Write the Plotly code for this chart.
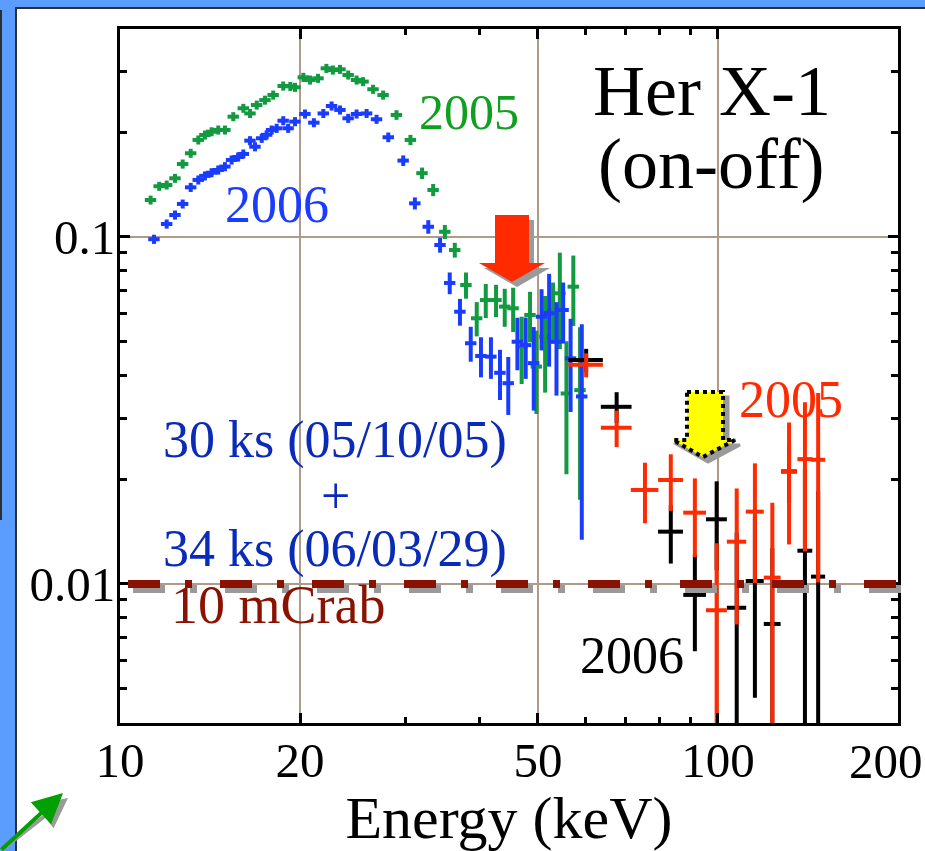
import math
import plotly.graph_objects as go

# ---------------- data ----------------
# HXD-PIN, 2005 (green)
pin05_energy = [11.25, 11.63, 11.97, 12.36, 12.73, 13.13, 13.52, 13.87, 14.23, 14.60,
                14.98, 15.47, 16.08, 16.50, 16.93, 17.48, 18.04, 18.75, 19.27, 19.62,
                20.26, 20.79, 21.44, 22.14, 22.70, 23.33, 24.08, 24.87, 25.50, 26.50,
                27.55, 29.00, 30.60, 32.00, 33.40, 34.94, 36.30, 37.90, 39.50, 40.90,
                42.55, 44.00, 45.45, 46.96, 48.50, 49.70, 51.40, 53.00, 54.40, 55.80,
                57.30, 58.80]
pin05_flux = [0.1278, 0.140, 0.1412, 0.1476, 0.1623, 0.1743, 0.1904, 0.1967, 0.2011, 0.2034,
              0.2034, 0.2222, 0.2349, 0.227, 0.240, 0.248, 0.2565, 0.2723, 0.2717, 0.270,
              0.2885, 0.2834, 0.2866, 0.3062, 0.3028, 0.3042, 0.293, 0.2834, 0.2804, 0.2665,
              0.2565, 0.2247, 0.1904, 0.1527, 0.1366, 0.1035, 0.0917, 0.0727, 0.0583, 0.0658,
              0.0658, 0.063, 0.0623, 0.0483, 0.0596, 0.0423, 0.0516, 0.0616, 0.0688, 0.0354,
              0.0719, 0.0362]
pin05_err = [0.0038, 0.0042, 0.0042, 0.0044, 0.0049, 0.0052, 0.0057, 0.0059, 0.0060, 0.0061,
             0.0061, 0.0067, 0.0070, 0.0068, 0.0072, 0.0074, 0.0077, 0.0082, 0.0082, 0.0081,
             0.0087, 0.0085, 0.0086, 0.0092, 0.0091, 0.0091, 0.0088, 0.0085, 0.0084, 0.0080,
             0.0077, 0.0072, 0.0065, 0.0058, 0.0055, 0.0048, 0.0045, 0.0063, 0.0066, 0.0074,
             0.0070, 0.0079, 0.0091, 0.0106, 0.0099, 0.0114, 0.0160, 0.0123, 0.0213, 0.0147,
             0.0165, 0.0187]

# HXD-PIN, 2006 (blue)
pin06_energy = [11.40, 11.97, 12.36, 12.73, 13.13, 13.52, 13.87, 14.23, 14.60, 14.98,
                15.37, 15.76, 16.08, 16.50, 16.82, 17.26, 17.59, 17.93, 18.28, 18.75,
                19.11, 19.62, 20.39, 21.10, 21.88, 22.59, 23.33, 24.08, 24.87, 25.85,
                26.86, 28.10, 29.76, 31.13, 32.78, 34.30, 35.60, 37.03, 38.60, 40.15,
                41.72, 43.20, 44.60, 46.20, 47.70, 49.20, 50.70, 52.20, 53.70, 55.10,
                56.70, 59.20]
pin06_flux = [0.0985, 0.109, 0.1157, 0.1245, 0.139, 0.146, 0.150, 0.1532, 0.156, 0.1595,
              0.1667, 0.170, 0.1735, 0.1895, 0.182, 0.1925, 0.197, 0.2034, 0.2057, 0.2163,
              0.2057, 0.215, 0.2262, 0.2135, 0.227, 0.2385, 0.2323, 0.2198, 0.2262, 0.227,
              0.2184, 0.1938, 0.166, 0.125, 0.107, 0.0948, 0.0737, 0.0609, 0.0494, 0.0454,
              0.0452, 0.0406, 0.0379, 0.0499, 0.0488, 0.0433, 0.0589, 0.0603, 0.0499, 0.0616,
              0.0447, 0.0347]
pin06_err = [0.0030, 0.0033, 0.0035, 0.0037, 0.0042, 0.0044, 0.0045, 0.0046, 0.0047, 0.0048,
             0.0050, 0.0051, 0.0052, 0.0057, 0.0055, 0.0058, 0.0059, 0.0061, 0.0062, 0.0065,
             0.0062, 0.0065, 0.0068, 0.0064, 0.0068, 0.0072, 0.0070, 0.0066, 0.0068, 0.0068,
             0.0066, 0.0062, 0.0058, 0.0050, 0.0048, 0.0047, 0.0053, 0.0054, 0.0057, 0.0060,
             0.0062, 0.0067, 0.0072, 0.0086, 0.0098, 0.0117, 0.0118, 0.0180, 0.0150, 0.0123,
             0.0134, 0.0213]

# HXD-GSO, 2005 (red)
gso05_energy = [60.2, 67.7, 75.5, 83.4, 91.5, 99.5, 107.5, 115.3, 123.3, 131.5, 139.8, 147.1]
gso05_flux = [0.0428, 0.0282, 0.01866, 0.01994, 0.01605, 0.0084, 0.01324, 0.01616, 0.01043,
              0.0211, 0.0229, 0.0228]
gso05_err = [0.0034, 0.0034, 0.0037, 0.0037, 0.0041, 0.0047, 0.0056, 0.0061, 0.0067,
             0.0081, 0.0105, 0.0127]

# HXD-GSO, 2006 (black)
gso06_energy = [60.2, 67.7, 83.4, 91.5, 99.5, 107.5, 115.3, 123.3, 131.5, 139.8, 147.1]
gso06_flux = [0.0442, 0.0324, 0.01415, 0.0093, 0.01536, 0.00854, 0.0102, 0.00767, 0.0211,
              0.01247, 0.0105]
gso06_err = [0.0034, 0.0033, 0.0027, 0.0029, 0.0044, 0.0055, 0.0055, 0.0050, 0.0040,
             0.0090, 0.0080]

pin_xerr_percent = 2.2      # half bin width of the PIN points (%)
gso_xerr_keV = 4.0          # half bin width of the GSO points (keV)

crab_level = 0.01           # 10 mCrab

x_range_keV = [10, 200.05]
y_range_flux = [0.003975, 0.3975]
x_tick_vals = [10, 20, 50, 100, 200]
x_tick_text = ["10", "20", "50", "100", ""]   # the last label ("200") is placed by hand below
x_last_label = "200"
x_minor_vals = [30, 40, 60, 70, 80, 90]
y_tick_vals = [0.01, 0.1]
y_tick_text = ["0.01", "0.1"]
y_minor_vals = [0.005, 0.006, 0.007, 0.008, 0.009,
                0.02, 0.03, 0.04, 0.05, 0.06, 0.07, 0.08, 0.09, 0.2, 0.3]

# ---------------- layout geometry ----------------
W, H = 925, 851
L, R, T, B = 120, 898, 29, 723
SERIF = "Liberation Serif, Times New Roman, Times, serif"

GREEN = "#129a40"
BLUE = "#1a3cff"
RED = "#ff2a00"
BLACK = "#000000"
GRID = "#b09a88"
BG_BLUE = "#5b9cff"
CRAB = "#8a1200"


def P(px, py):
    """pixel position in the page -> paper coordinates"""
    return (px - L) / (R - L), (B - py) / (B - T)


def path(points):
    s = ""
    for i, (px, py) in enumerate(points):
        x, y = P(px, py)
        s += ("M" if i == 0 else "L") + f"{x:.5f},{y:.5f} "
    return s + "Z"


fig = go.Figure()


def add_series(E, F, err, color, xerr):
    fig.add_trace(go.Scatter(
        x=E, y=F, mode="markers",
        marker=dict(size=2, color="rgba(0,0,0,0)"),
        error_y=dict(type="data", array=err, color=color, thickness=4, width=0, visible=True),
        error_x=dict(**xerr, color=color, thickness=4, width=0, visible=True),
        showlegend=False, hoverinfo="skip", cliponaxis=True))


add_series(pin05_energy, pin05_flux, pin05_err, GREEN, dict(type="percent", value=pin_xerr_percent))
add_series(pin06_energy, pin06_flux, pin06_err, BLUE, dict(type="percent", value=pin_xerr_percent))
add_series(gso06_energy, gso06_flux, gso06_err, BLACK, dict(type="constant", value=gso_xerr_keV))
add_series(gso05_energy, gso05_flux, gso05_err, RED, dict(type="constant", value=gso_xerr_keV))

shapes = []
# page decoration: blue frame strips and dark borders
shapes.append(dict(type="rect", xref="paper", yref="paper", layer="below",
                   x0=P(0, 0)[0], x1=P(W, 0)[0], y0=P(0, 0)[1], y1=P(0, 8)[1],
                   fillcolor=BG_BLUE, line_width=0))
shapes.append(dict(type="rect", xref="paper", yref="paper", layer="below",
                   x0=P(0, 0)[0], x1=P(15, 0)[0], y0=P(0, 0)[1], y1=P(0, H)[1],
                   fillcolor=BG_BLUE, line_width=0))
shapes.append(dict(type="line", xref="paper", yref="paper", layer="below",
                   x0=P(15, 8)[0], x1=P(W, 8)[0], y0=P(15, 8)[1], y1=P(W, 8)[1],
                   line=dict(color="#2b2f3a", width=2)))
shapes.append(dict(type="line", xref="paper", yref="paper", layer="below",
                   x0=P(16, 8)[0], x1=P(16, H)[0], y0=P(16, 8)[1], y1=P(16, H)[1],
                   line=dict(color="#2b2f3a", width=2)))
shapes.append(dict(type="line", xref="paper", yref="paper", layer="below",
                   x0=P(1, 10)[0], x1=P(1, 520)[0], y0=P(1, 10)[1], y1=P(1, 520)[1],
                   line=dict(color="#2b2f3a", width=2)))

# 10 mCrab level (dash-dot line with shadow)
ylo, yhi = math.log10(y_range_flux[0]), math.log10(y_range_flux[1])
crab_y = (math.log10(crab_level) - ylo) / (yhi - ylo)
dash = "32px,25px,7px,28px"
shapes.append(dict(type="line", xref="paper", yref="paper",
                   x0=P(133, 0)[0], x1=P(902, 0)[0], y0=crab_y - 5 / (B - T), y1=crab_y - 5 / (B - T),
                   line=dict(color="#9a9a9a", width=8, dash=dash)))
shapes.append(dict(type="line", xref="paper", yref="paper",
                   x0=P(128, 0)[0], x1=P(897, 0)[0], y0=crab_y, y1=crab_y,
                   line=dict(color=CRAB, width=8, dash=dash)))

# red block arrow (with shadow)
red_arrow = [(495, 215), (529, 215), (529, 263), (545, 263), (512, 282), (479, 263), (495, 263)]
shapes.append(dict(type="path", xref="paper", yref="paper",
                   path=path([(x + 5, y + 5) for x, y in red_arrow]),
                   fillcolor="#9a9a9a", line_width=0))
shapes.append(dict(type="path", xref="paper", yref="paper", path=path(red_arrow),
                   fillcolor="#ff2a00", line_width=0))

# yellow dotted block arrow (with shadow)
yel_arrow = [(687, 392), (723, 392), (723, 440), (735, 440), (703, 457), (673, 440), (687, 440)]
shapes.append(dict(type="path", xref="paper", yref="paper",
                   path=path([(x + 5, y + 5) for x, y in yel_arrow]),
                   fillcolor="#9a9a9a", line=dict(color="#9a9a9a", width=3)))
shapes.append(dict(type="path", xref="paper", yref="paper", path=path(yel_arrow),
                   fillcolor="#ffff00", line=dict(color="#000000", width=4, dash="4px,4px")))

annotations = []


def text(s, px, py, size, color):
    x, y = P(px, py)
    annotations.append(dict(text=s, x=x, y=y, xref="paper", yref="paper",
                            xanchor="center", yanchor="middle", showarrow=False,
                            font=dict(family=SERIF, size=size, color=color)))


text("Her X-1", 712, 91, 72, BLACK)
text("(on-off)", 711, 164, 72, BLACK)
text("2005", 469, 112, 50, "#10a020")
text("2006", 277, 204, 52, BLUE)
text("30 ks (05/10/05)", 335, 440, 52, "#0a2ab8")
text("+", 335, 496, 52, "#0a2ab8")
text("34 ks (06/03/29)", 335, 549, 52, "#0a2ab8")
text("10 mCrab", 278, 605, 54, CRAB)
text("2006", 632, 655, 52, BLACK)
text("2005", 791, 399, 52, RED)
# last x tick label, pulled inside the page as in the reference
text(x_last_label, 886, 761, 49, BLACK)

# green arrow in the lower-left corner (with shadow)
for dx, col in [(5, "#9a9a9a"), (0, "#00a000")]:
    hx, hy = P(63 + dx, 793 + dx)
    annotations.append(dict(text="", x=hx, y=hy, xref="paper", yref="paper",
                            ax=-70, ay=64, axref="pixel", ayref="pixel",
                            showarrow=True, arrowhead=2, arrowsize=1.5, arrowwidth=4,
                            arrowcolor=col))

axis_common = dict(
    showline=True, linecolor="black", linewidth=3, mirror="ticks",
    ticks="inside", ticklen=10, tickwidth=3, tickcolor="black",
    showgrid=True, gridcolor=GRID, gridwidth=1.5, zeroline=False,
    tickfont=dict(family=SERIF, size=49, color="black"),
    ticklabeloverflow="allow",
)

fig.update_layout(
    width=W, height=H, autosize=False,
    margin=dict(l=L, r=W - R, t=T, b=H - B),
    paper_bgcolor="white", plot_bgcolor="white",
    showlegend=False,
    xaxis=dict(type="log", range=[math.log10(v) for v in x_range_keV],
               tickvals=x_tick_vals, ticktext=x_tick_text,
               minor=dict(tickvals=x_minor_vals, ticks="inside", ticklen=6, tickwidth=2.5,
                          tickcolor="black", showgrid=False),
               ticklabelstandoff=-8,
               title=dict(text="Energy (keV)", font=dict(family=SERIF, size=60, color="black"),
                          standoff=8),
               automargin=False, **axis_common),
    yaxis=dict(type="log", range=[ylo, yhi],
               tickvals=y_tick_vals, ticktext=y_tick_text,
               minor=dict(tickvals=y_minor_vals, ticks="inside", ticklen=7, tickwidth=2.5,
                          tickcolor="black", showgrid=False),
               ticklabelstandoff=-8,
               automargin=False, **axis_common),
    shapes=shapes, annotations=annotations,
)

fig.write_html("out.html")
